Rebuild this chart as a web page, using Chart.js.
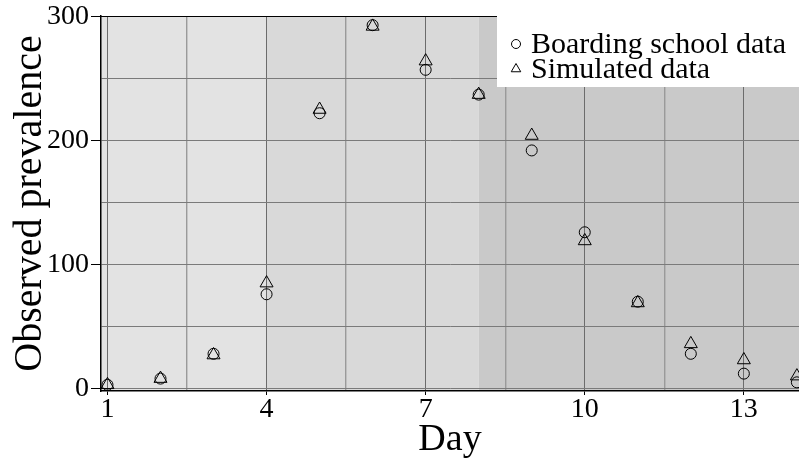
<!DOCTYPE html>
<html>
<head>
<meta charset="utf-8">
<script src="https://cdn.jsdelivr.net/npm/chart.js@4.4.1/dist/chart.umd.min.js"></script>
<style>
  html, body { margin: 0; padding: 0; background: #fff; }
  canvas { display: block; }
</style>
</head>
<body>
<canvas id="chart" width="799" height="462"></canvas>
<script>
// data
const days = [1, 2, 3, 4, 5, 6, 7, 8, 9, 10, 11, 12, 13, 14];
const boardingSchool = [3, 8, 28, 76, 222, 293, 257, 237, 192, 126, 70, 28, 12, 5];
const simulated = [3, 8, 27, 85, 225, 292, 264, 237, 204, 119, 69, 36, 23, 10];

const xGridTicks = [1, 2.5, 4, 5.5, 7, 8.5, 10, 11.5, 13];
const xLabelTicks = [1, 4, 7, 10, 13];
const yGridTicks = [0, 50, 100, 150, 200, 250, 300];
const yLabelTicks = [0, 100, 200, 300];

// shaded day ranges (edges in days)
const bandEdges = [4, 8];
const bandColors = ['#e3e3e3', '#d9d9d9', '#c9c9c9'];

const FONT = "'Liberation Serif', 'Times New Roman', serif";

const bandsPlugin = {
  id: 'bands',
  beforeDraw(chart) {
    const { ctx, chartArea: a, scales: { x } } = chart;
    const edges = [a.left, ...bandEdges.map(v => x.getPixelForValue(v)), a.right];
    ctx.save();
    for (let i = 0; i < bandColors.length; i++) {
      ctx.fillStyle = bandColors[i];
      ctx.fillRect(edges[i], a.top, edges[i + 1] - edges[i], a.bottom - a.top);
    }
    ctx.restore();
  },
  afterDraw(chart) {
    const { ctx, chartArea: a } = chart;
    // top frame line
    ctx.save();
    ctx.strokeStyle = '#000';
    ctx.lineWidth = 1.2;
    ctx.beginPath();
    ctx.moveTo(a.left, a.top + 0.5);
    ctx.lineTo(a.right, a.top + 0.5);
    ctx.stroke();

    // legend box inside the plot
    const boxX = 497, boxY = a.top, boxW = a.right - boxX, boxH = 71;
    ctx.fillStyle = '#fff';
    ctx.fillRect(boxX, boxY, boxW, boxH);
    ctx.font = '30px ' + FONT;
    ctx.textBaseline = 'alphabetic';
    chart.data.datasets.forEach((ds, i) => {
      const base = boxY + 37 + i * 25;
      ctx.fillStyle = 'rgba(0,0,0,0)';
      ctx.strokeStyle = '#000';
      ctx.lineWidth = 1;
      Chart.helpers.drawPoint(ctx, {
        pointStyle: ds.pointStyle,
        radius: ds.pointStyle === 'triangle' ? 5.5 : 4.5,
        borderWidth: 1
      }, 516, base - 9);
      ctx.fillStyle = '#000';
      ctx.fillText(ds.label, 531, base);
    });
    ctx.restore();
  }
};

new Chart(document.getElementById('chart'), {
  type: 'scatter',
  data: {
    datasets: [
      {
        label: 'Boarding school data',
        data: days.map((d, i) => ({ x: d, y: boardingSchool[i] })),
        pointStyle: 'circle',
        pointRadius: 5.5,
        borderColor: '#000',
        backgroundColor: 'rgba(0,0,0,0)',
        borderWidth: 1
      },
      {
        label: 'Simulated data',
        data: days.map((d, i) => ({ x: d, y: simulated[i] })),
        pointStyle: 'triangle',
        pointRadius: 7.5,
        borderColor: '#000',
        backgroundColor: 'rgba(0,0,0,0)',
        borderWidth: 1
      }
    ]
  },
  options: {
    responsive: false,
    animation: false,
    devicePixelRatio: 1,
    layout: { autoPadding: false, padding: { top: 16, right: 0, left: 0, bottom: 0 } },
    plugins: {
      legend: { display: false },
      tooltip: { enabled: false }
    },
    scales: {
      x: {
        type: 'linear',
        min: 0.878,
        max: 14.04,
        afterBuildTicks: s => { s.ticks = xGridTicks.map(v => ({ value: v })); },
        afterFit: s => { s.height = 71; s.paddingLeft = 0; s.paddingRight = 0; },
        border: { color: '#000', width: 1.5 },
        grid: {
          color: c => xLabelTicks.includes(c.tick.value) ? '#6c6c6c' : '#9a9a9a',
          lineWidth: c => xLabelTicks.includes(c.tick.value) ? 1 : 1.4,
          tickLength: 4,
          tickColor: c => xLabelTicks.includes(c.tick.value) ? '#000' : 'rgba(0,0,0,0)'
        },
        ticks: {
          autoSkip: false,
          maxRotation: 0,
          padding: 1,
          color: '#000',
          font: { family: FONT, size: 28, lineHeight: 1 },
          callback: v => xLabelTicks.includes(v) ? String(v) : ''
        },
        title: {
          display: true,
          text: 'Day',
          color: '#000',
          font: { family: FONT, size: 38, lineHeight: 1 },
          padding: { top: 0, bottom: 3 }
        }
      },
      y: {
        type: 'linear',
        min: -2,
        max: 300.4,
        afterBuildTicks: s => { s.ticks = yGridTicks.map(v => ({ value: v })); },
        afterFit: s => { s.width = 101; s.paddingTop = 0; s.paddingBottom = 0; },
        border: { color: '#000', width: 1.5 },
        grid: {
          color: '#7a7a7a',
          lineWidth: 1,
          tickLength: 10,
          tickColor: c => yLabelTicks.includes(c.tick.value) ? '#000' : 'rgba(0,0,0,0)'
        },
        ticks: {
          autoSkip: false,
          padding: 2,
          color: '#000',
          font: { family: FONT, size: 28, lineHeight: 1 },
          callback: v => yLabelTicks.includes(v) ? String(v) : ''
        },
        title: {
          display: true,
          text: 'Observed prevalence',
          color: '#000',
          font: { family: FONT, size: 40, lineHeight: 1 },
          padding: { top: 10, bottom: 0 }
        }
      }
    }
  },
  plugins: [bandsPlugin]
});
</script>
</body>
</html>
